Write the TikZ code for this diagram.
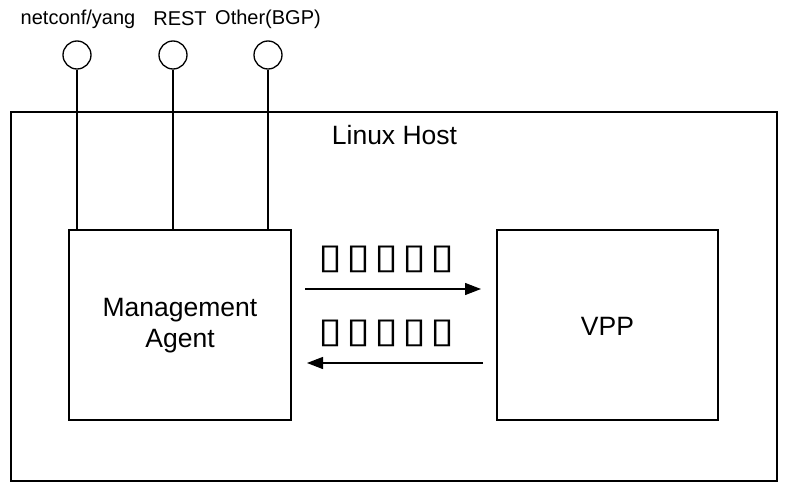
\documentclass[tikz,border=0pt]{standalone}
\usepackage{fontspec}
\setmainfont{Liberation Sans}
\newfontfamily\symfont[FakeStretch=1.25]{DejaVu Sans}
\usetikzlibrary{arrows.meta}
\newcommand\tofugap{\hspace{4.1pt}}
\tikzset{
  line/.style={draw=black, line width=1.3pt},
  box/.style={line, rectangle, inner sep=0pt},
  port/.style={line, circle, minimum size=28pt, inner sep=0pt},
  biglabel/.style={font=\fontsize{26.5}{31}\selectfont, align=center, inner sep=0pt},
  smalllabel/.style={font=\fontsize{20}{24}\selectfont, inner sep=0pt},
  tofu/.style={font=\symfont\fontsize{35}{35}\selectfont, inner sep=0pt},
  flow/.style={line, -{Triangle[length=16pt,width=12pt]}}
}
\begin{document}
\begin{tikzpicture}[x=1pt,y=-1pt]
\useasboundingbox (0,0) rectangle (790,492);
% outer host
\draw[line] (11,112) rectangle (777,481);
\node[biglabel] (host) at (394.5,135.5) {Linux Host};
% boxes
\node[box, minimum width=222pt, minimum height=190pt] (ma) at (180,325) {};
\node[biglabel] (malabel) at (180,326) {Management\\Agent};
\node[box, minimum width=221pt, minimum height=190pt] (vpp) at (607.5,325) {};
\node[biglabel] (vpplabel) at (607.5,326) {VPP};
% ports
\node[port] (p1) at (77,55) {};
\node[port] (p2) at (173,55) {};
\node[port] (p3) at (268,55) {};
\node[smalllabel] (l1) at (78,19) {netconf/yang};
\node[smalllabel] (l2) at (180,19) {REST};
\node[smalllabel] (l3) at (268,19) {Other(BGP)};
\coordinate (m1) at (77,230);
\coordinate (m2) at (173,230);
\coordinate (m3) at (268,230);
\draw[line] (p1.south) -- (m1);
\draw[line] (p2.south) -- (m2);
\draw[line] (p3.south) -- (m3);
% arrows
\coordinate (a1s) at (305,289);
\coordinate (a1e) at (481,289);
\coordinate (a2s) at (483,363);
\coordinate (a2e) at (307,363);
\draw[flow] (a1s) -- (a1e);
\draw[flow] (a2s) -- (a2e);
\node[tofu] (t1) at (386.5,259.5) {▯\tofugap▯\tofugap▯\tofugap▯\tofugap▯};
\node[tofu] (t2) at (386.5,333) {▯\tofugap▯\tofugap▯\tofugap▯\tofugap▯};
\end{tikzpicture}
\end{document}
